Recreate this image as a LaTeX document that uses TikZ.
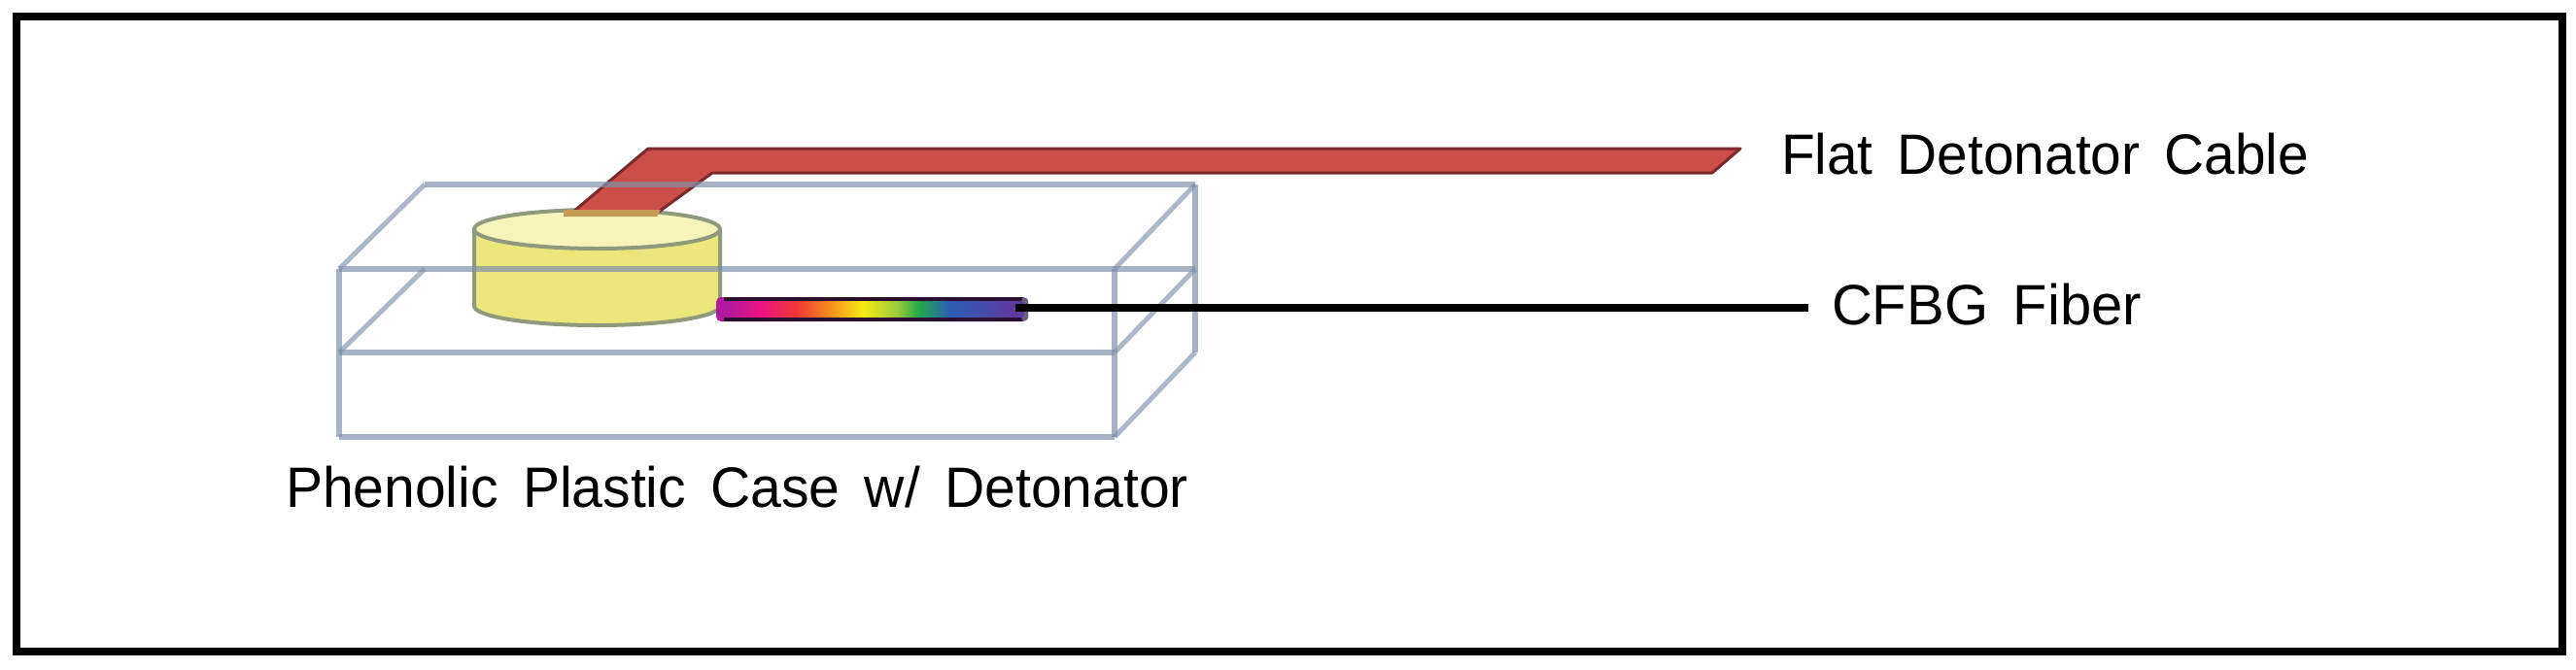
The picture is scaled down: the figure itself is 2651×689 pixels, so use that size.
\documentclass[tikz,border=0pt]{standalone}
\usepackage{fontspec}
\usepackage{graphicx}
\setmainfont[WordSpace=1.6]{Liberation Sans}
\definecolor{fuchsia0}{HTML}{B3199E}
\definecolor{fuchsia1}{HTML}{EE1480}
\definecolor{red0}{HTML}{EE3A35}
\definecolor{orange0}{HTML}{F7941D}
\definecolor{yellow0}{HTML}{F6EB14}
\definecolor{lime0}{HTML}{9CCB3B}
\definecolor{green0}{HTML}{22A84A}
\definecolor{blue0}{HTML}{2B5FB3}
\definecolor{violet0}{HTML}{5E3A9E}
\definecolor{caseline}{HTML}{8191AB}
\definecolor{cablered}{HTML}{CB4F46}
\definecolor{cableedge}{HTML}{7A2A2A}
\definecolor{cylfill}{HTML}{ECE77C}
\definecolor{cyltop}{HTML}{F6F4B8}
\definecolor{cyledge}{HTML}{8F9A7C}
\definecolor{tabfoot}{HTML}{C49A55}
\definecolor{fiberedge}{HTML}{2A1030}
\pgfdeclarehorizontalshading{rainbow}{100bp}{
  color(0bp)=(fuchsia0);
  color(27bp)=(fuchsia0);
  color(32.3bp)=(fuchsia1);
  color(38bp)=(red0);
  color(43.5bp)=(orange0);
  color(48.5bp)=(yellow0);
  color(54bp)=(lime0);
  color(57.5bp)=(green0);
  color(62.3bp)=(blue0);
  color(72.5bp)=(violet0);
  color(100bp)=(violet0)}
\tikzset{
  caseedge/.style={draw=caseline,line width=6.5pt,line join=round,opacity=.7},
  casediag/.style={draw=caseline,line width=5pt,line join=round,opacity=.65},
  label text/.style={anchor=base west,inner sep=0pt,outer sep=0pt,text=black}
}
\newcommand{\fitlabel}[2]{\resizebox{#1pt}{\height}{\fontsize{58.6pt}{60pt}\selectfont #2}}
\begin{document}
\begin{tikzpicture}[x=1pt,y=-1pt]
\useasboundingbox (0,0) rectangle (2651,689);
\draw[black,line width=8pt,miter limit=10] (17,17) rectangle (2636.5,670.5);
% cylinder
\fill[cylfill] (488,236) -- (488,315) arc[start angle=180,end angle=0,x radius=126.5,y radius=20] -- (741,236) -- cycle;
\draw[cyledge,line width=4pt] (488,236) -- (488,315) arc[start angle=180,end angle=0,x radius=126.5,y radius=20] -- (741,236);
\draw[cyledge,fill=cyltop,line width=4pt] (614.5,236) ellipse[x radius=126.5,y radius=20];
% cable
\fill[cablered,draw=cableedge,line width=3pt,line join=round]
  (667,153) -- (1791,153) -- (1762,178) -- (733,178) -- (678,218) -- (590,218) -- cycle;
\fill[tabfoot] (580,216) -- (680,216) -- (676,223) -- (580,223) -- cycle;
% case
\draw[caseedge] (349,277) -- (1230,277);
\draw[caseedge] (349,363) -- (1147,363);
\draw[caseedge] (349,450) -- (1147,450);
\draw[caseedge] (437,190) -- (1230,190);
\draw[caseedge] (349,277) -- (349,450);
\draw[caseedge] (1147,277) -- (1147,450);
\draw[caseedge] (1230,190) -- (1230,363);
\draw[casediag] (349,277) -- (437,190);
\draw[casediag] (1147,277) -- (1230,190);
\draw[casediag] (1147,363) -- (1230,277);
\draw[casediag] (349,363) -- (437,277);
\draw[casediag] (1147,450) -- (1230,363);
% fiber
\node[inner sep=0pt,outer sep=0pt,minimum width=321pt,minimum height=25pt,rounded corners=5pt,shading=rainbow] (fiber) at (897.5,318.5) {};
\draw[fiberedge,line width=4pt] (745,308) -- (1052,308);
\draw[fiberedge,line width=4pt] (745,329) -- (1052,329);
\draw[black!55!violet0!70,line width=4pt] (1052,308) -- (1056,310) -- (1056,327) -- (1052,329);
\coordinate (fiberstart) at (1045,317);
\coordinate (fiberend) at (1861,317);
\draw[black,line width=7.5pt] (fiberstart) -- (fiberend);
% labels
\node[label text] (cable) at (1833,179) {\fitlabel{543}{Flat Detonator Cable}};
\node[label text] (cfbg) at (1885,334) {\fitlabel{319}{CFBG Fiber}};
\node[label text] (case) at (294,522) {\fitlabel{929}{Phenolic Plastic Case w/ Detonator}};
\end{tikzpicture}
\end{document}
